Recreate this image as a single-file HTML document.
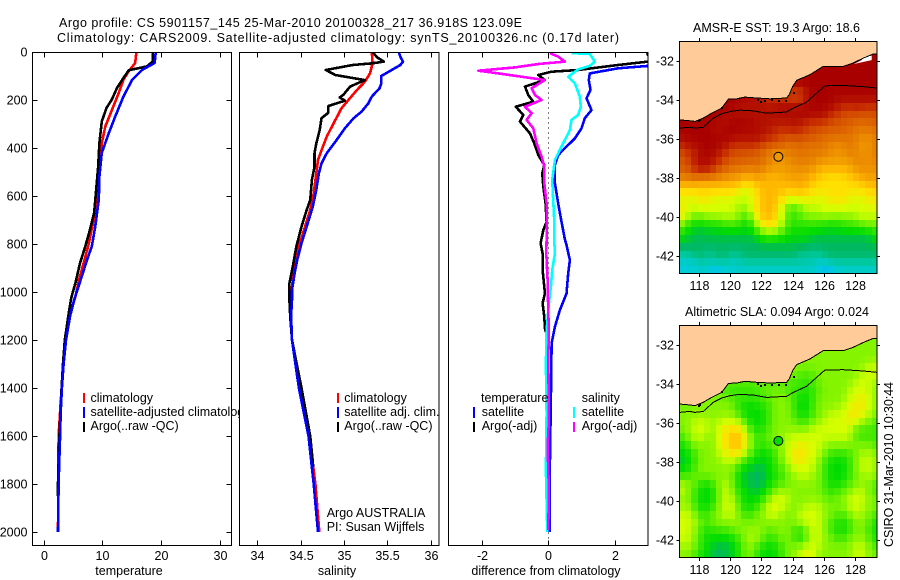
<!DOCTYPE html>
<html>
<head>
<meta charset="utf-8">
<title>Argo profile</title>
<style>
html,body{margin:0;padding:0;background:#fff;}
svg{display:block;}
text{font-family:"Liberation Sans",sans-serif;font-size:12.5px;fill:#000;}
</style>
</head>
<body>
<svg id="chart" xmlns="http://www.w3.org/2000/svg" width="900" height="580" viewBox="0 0 900 580">
<rect x="0" y="0" width="900" height="580" fill="#fff"/>
<text x="59" y="27" textLength="463" lengthAdjust="spacing">Argo profile: CS 5901157_145 25-Mar-2010 20100328_217 36.918S 123.09E</text>
<text x="57" y="42" textLength="562" lengthAdjust="spacing">Climatology: CARS2009. Satellite-adjusted climatology: synTS_20100326.nc (0.17d later)</text>
</svg>
<script>
// ---------- profile data ----------
const tempClimDepth=[0,46,80,115,170,255,310,380,465,560,645,700,797,880,950,1020,1100,1200,1300,1400,1600,1800,2000];
const tempClim=[15.8,15.6,14.5,13.6,12.8,11.4,10.5,9.9,9.5,9.2,9.0,8.5,7.7,6.8,6.0,5.4,4.4,3.7,3.3,3.05,2.55,2.5,2.45];
const tempSatDepth=[0,46,74,115,185,268,338,420,518,615,726,810,865,935,1032,1100,1200,1300,1400,1500,1600,1700,1800,2000];
const tempSat=[19.1,18.9,16.8,15.1,13.6,12.2,11.1,9.9,9.5,9.4,8.8,8.2,7.4,6.5,5.2,4.5,3.8,3.4,3.1,2.9,2.8,2.67,2.55,2.45];
const tempArgoDepth=[0,39,60,76,108,150,199,233,289,379,476,587,671,740,810,880,963,1025,1100,1200,1300,1400,1620,1800,1850];
const tempArgo=[18.6,18.6,17.6,14.5,13.6,12.5,11.6,10.7,9.9,9.5,9.3,8.9,8.6,7.9,7.1,6.2,5.4,4.7,4.2,3.6,3.3,3.05,2.65,2.45,2.45];

const salClimDepth=[0,47,89,124,158,200,235,297,353,401,450,505,589,658,728,797,867,922,978,1033,1100,1200,1400,1600,1800,2000];
const salClim=[35.32,35.33,35.30,35.24,35.15,35.05,34.97,34.88,34.80,34.75,34.70,34.68,34.65,34.61,34.55,34.49,34.45,34.42,34.40,34.39,34.39,34.40,34.49,34.60,34.67,34.715];
const salSatDepth=[0,20,40,54,75,100,131,151,186,214,249,276,318,374,422,464,505,574,644,728,797,867,922,992,1033,1100,1200,1400,1600,1800,2000];
const salSat=[35.63,35.65,35.68,35.65,35.55,35.43,35.43,35.41,35.32,35.28,35.20,35.11,35.01,34.90,34.80,34.74,34.71,34.68,34.64,34.57,34.51,34.46,34.43,34.40,34.40,34.39,34.40,34.48,34.59,34.65,34.70];
const salArgoDepth=[0,22,40,47,54,75,96,117,144,179,189,203,225,253,276,325,381,422,478,533,617,658,728,811,894,964,1033,1100,1200,1400,1600,1730];
const salArgo=[35.33,35.38,35.46,35.33,35.10,34.79,34.90,35.24,35.07,34.99,34.95,35.01,34.82,34.82,34.74,34.72,34.68,34.66,34.66,34.63,34.61,34.57,34.51,34.45,34.41,34.37,34.37,34.38,34.40,34.51,34.61,34.646];

const diffTempSatDepth=[0,58,68,89,117,158,193,242,276,318,360,394,429,471,547,631,707,781,804,867,922,1006,1075,1145,1214,1436,1714,1999];
const diffTempSat=[3.4,3.0,2.1,1.25,1.22,1.27,1.15,1.3,1.1,1.0,0.8,0.55,0.3,0.2,0.2,0.3,0.4,0.5,0.55,0.65,0.6,0.55,0.35,0.2,0.1,0.08,0.05,0.05];
const diffTempArgoDepth=[5,30,40,54,75,82,96,117,144,179,207,228,262,290,339,381,429,471,506,561,631,707,742,797,839,909,978,1006,1047,1103,1152,1175,1534];
const diffTempArgo=[2.96,3.1,3.0,2.1,0.9,0.1,-0.3,-0.1,-0.7,-0.6,-0.45,-0.98,-0.75,-0.85,-0.55,-0.42,-0.3,-0.12,-0.18,-0.15,-0.08,-0.05,-0.15,-0.23,-0.17,-0.17,-0.12,-0.10,-0.17,-0.12,-0.1,-0.05,-0.04];
const diffSalSatDepth=[5,8,40,58,72,103,131,186,228,262,283,325,394,450,533,617,700,781,839,909,978,1047,1159,1298,1506,1742,1999];
const diffSalSat=[0.7,1.25,1.4,1.25,0.9,0.6,0.8,0.95,0.98,0.9,0.7,0.65,0.4,0.2,0.12,0.15,0.18,0.18,0.2,0.12,0.08,0.02,-0.05,-0.07,-0.05,-0.07,-0.03];
const diffSalArgoDepth=[5,19,40,50,64,78,89,103,117,151,179,200,228,255,283,318,381,436,478,547,631,781,839,950,1089,1159,1270,1534,1645,1825,1992];
const diffSalArgo=[0.05,0.3,0.5,-0.3,-1.0,-2.1,-1.5,-0.8,-0.1,-0.5,-0.4,-0.2,-0.7,-0.5,-0.65,-0.45,-0.35,-0.2,-0.12,-0.12,-0.05,-0.05,-0.06,-0.02,0,0.02,0,0.02,-0.02,0.02,0];

const depthTicks=[0,200,400,600,800,1000,1200,1400,1600,1800,2000];
const tempTicks=[0,10,20,30];
const salTicks=[34,34.5,35,35.5,36];
const diffTicks=[-2,0,2];
const lonTicks=[118,120,122,124,126,128];
const latTicks=[-32,-34,-36,-38,-40,-42];

// ---------- map data (0.4 degree cells, colour class 0-15) ----------
const sstCells=[
[15,15,15,15,15,15,15,15,15,15,15,15,15,15,15,15,15,15,15,15,15,15,15,15,15,15,15,15,15,15,15,15],
[15,15,15,15,15,15,15,15,15,15,15,15,15,15,15,15,15,15,15,15,15,15,15,15,15,15,15,15,15,15,15,15],
[15,15,15,15,15,15,15,15,15,15,15,15,15,15,15,15,15,15,15,15,15,15,15,15,15,15,15,15,15,15,15,15],
[15,15,15,15,15,15,15,15,15,15,15,15,15,15,15,15,15,15,15,15,15,15,15,15,15,15,15,15,15,15,15,15],
[15,15,15,15,15,15,15,15,15,15,15,15,15,15,15,15,15,15,15,15,15,15,15,15,15,15,15,15,15,15,15,15],
[15,15,15,15,15,15,15,15,15,15,15,15,15,15,15,15,15,15,15,15,15,15,15,15,15,15,15,15,15,15,15,15],
[15,15,15,15,15,15,15,15,15,15,15,15,14,13,13,13,13,12,13,12,14,15,15,15,15,15,15,15,15,15,15,15],
[15,15,15,15,15,15,15,15,15,15,14,14,14,14,13,13,13,12,12,12,13,15,15,15,15,14,14,14,14,14,14,14],
[15,15,15,15,15,15,15,15,15,14,14,14,14,14,14,14,15,15,15,15,15,15,15,15,14,14,13,13,14,13,13,13],
[15,15,14,14,15,15,15,14,14,14,14,14,14,14,14,14,14,14,14,14,15,14,14,14,13,13,12,12,12,12,12,12],
[15,15,15,15,15,15,14,14,15,15,15,15,14,14,14,14,14,14,14,14,13,13,13,13,12,12,12,12,12,11,12,12],
[15,15,15,15,15,14,14,15,15,15,14,15,14,14,14,13,13,13,14,13,13,12,12,12,12,12,12,11,11,11,11,11],
[14,15,15,15,15,15,15,15,14,14,14,14,14,14,13,13,12,12,12,12,12,12,12,11,11,11,11,11,11,10,10,11],
[13,14,14,15,15,15,14,14,13,13,13,13,13,12,12,12,12,11,11,12,11,11,11,11,11,10,11,11,11,10,10,11],
[12,13,13,14,15,14,14,13,12,12,12,12,12,11,11,10,10,11,11,11,11,11,11,11,10,10,10,11,10,10,10,11],
[12,12,14,15,14,14,13,12,12,12,12,11,12,11,11,10,10,10,11,11,11,11,10,10,10,10,10,10,11,11,10,11],
[12,12,13,14,14,13,12,12,11,11,11,11,11,11,10,10,10,10,10,10,10,10,9,9,9,9,9,9,10,10,10,10],
[11,11,12,11,11,11,11,10,10,10,9,9,10,9,9,9,9,10,10,10,10,9,9,8,8,8,8,9,9,10,10,10],
[9,9,9,9,9,9,9,9,9,9,8,8,9,9,9,9,9,9,9,9,9,8,8,8,8,8,8,8,8,8,9,9],
[8,8,8,8,8,8,8,8,8,7,7,7,8,9,9,9,9,8,9,9,9,8,8,8,8,8,8,8,8,8,8,8],
[7,7,7,8,8,7,7,7,7,7,7,7,8,9,9,9,8,7,7,7,7,7,7,7,8,8,8,7,7,7,8,8],
[8,7,7,7,7,7,7,7,7,6,6,7,8,9,9,9,7,5,5,6,7,7,7,7,7,7,7,7,7,7,7,7],
[8,7,6,6,7,7,7,7,7,7,5,6,8,9,9,9,7,5,5,5,6,6,6,7,7,6,7,6,7,7,7,7],
[7,4,4,4,4,4,4,5,5,5,4,4,7,8,8,8,7,5,5,5,5,5,5,4,4,4,5,5,5,6,6,6],
[5,4,4,3,4,4,4,4,4,4,4,4,5,7,7,7,6,4,4,4,4,4,4,4,4,4,4,4,4,4,4,5],
[4,3,3,3,3,3,3,3,3,3,3,3,3,4,4,4,4,4,4,4,4,3,3,3,3,3,3,3,3,3,3,4],
[3,3,3,3,3,3,3,3,3,3,3,3,3,3,3,3,3,3,3,3,3,3,3,3,3,3,3,3,3,3,3,3],
[2,2,3,3,2,2,3,3,2,2,3,3,3,3,3,3,3,3,3,2,2,2,2,3,3,3,3,3,3,3,3,3],
[1,1,1,2,2,2,2,2,1,2,2,2,2,2,2,2,2,2,2,2,2,2,1,1,2,2,2,2,2,2,2,2],
[1,1,1,1,1,0,0,1,1,1,1,1,1,1,1,1,1,1,1,1,1,1,1,0,0,1,1,1,1,1,1,1]
];
const slaCells=[
[6,6,6,6,6,6,6,6,6,6,6,6,6,6,6,6,6,6,6,6,6,6,6,6,6,6,6,6,6,6,6,6],
[6,6,6,6,6,6,6,6,6,6,6,6,6,6,6,6,6,6,6,6,6,6,6,6,6,6,6,6,6,6,6,6],
[6,6,6,6,6,6,6,6,6,6,6,6,6,6,6,6,6,6,6,6,6,6,6,6,6,6,6,6,6,6,6,6],
[6,6,6,6,6,6,6,6,6,6,6,6,6,6,6,6,6,6,6,6,6,6,6,6,6,6,6,6,6,6,6,6],
[6,6,6,6,6,6,6,6,6,6,6,6,6,6,6,6,6,6,6,6,6,6,6,6,6,6,6,6,6,6,6,6],
[6,6,6,6,6,6,6,6,6,6,6,6,6,6,6,6,6,6,6,6,6,6,6,6,6,6,6,6,6,6,7,7],
[6,6,6,6,6,6,6,6,6,6,6,6,6,6,6,6,6,6,6,5,5,5,6,6,6,6,6,6,6,7,7,7],
[6,6,6,6,6,6,6,5,5,5,5,5,5,5,5,5,5,5,5,5,5,5,6,6,6,6,6,6,7,7,7,6],
[5,5,5,5,6,6,5,5,5,5,5,5,5,6,6,6,6,5,5,5,4,5,5,6,6,6,6,7,7,7,7,6],
[5,5,6,6,6,6,6,6,5,5,5,5,5,5,5,6,6,6,5,4,4,5,6,6,6,6,6,7,7,8,7,6],
[6,6,6,6,6,6,6,6,6,5,4,4,4,5,5,6,6,6,5,4,4,5,6,6,6,6,7,7,8,8,7,6],
[6,6,6,6,6,6,6,6,6,5,4,4,4,4,5,6,6,6,5,4,4,5,6,6,7,7,7,8,8,7,7,6],
[6,6,7,7,7,6,7,7,7,7,6,4,4,4,5,6,6,6,6,5,5,6,6,7,7,7,7,8,7,7,6,5],
[6,6,7,7,7,6,7,8,8,8,7,5,4,5,5,6,6,6,6,6,6,7,7,7,7,7,7,7,5,5,5,5],
[5,6,7,7,6,6,7,8,9,9,8,6,5,5,6,6,6,7,7,7,7,7,7,7,7,7,7,7,5,5,5,5],
[4,5,6,6,6,6,7,8,9,9,8,6,5,5,5,6,6,7,7,8,7,7,7,6,6,6,6,6,6,6,6,5],
[4,4,5,6,6,6,7,7,8,8,7,6,4,4,4,5,6,7,8,8,8,7,7,6,5,5,5,5,6,6,7,6],
[3,4,5,6,6,6,6,7,7,6,5,4,4,4,4,5,6,7,8,8,7,7,6,5,4,4,4,5,6,7,7,6],
[4,4,5,6,6,6,6,6,6,5,4,4,3,3,4,5,5,6,7,7,7,7,6,5,4,4,4,5,6,7,7,6],
[5,5,6,6,6,6,6,6,6,4,3,3,3,3,4,4,5,6,6,7,7,6,6,5,4,4,4,5,6,6,7,6],
[7,6,6,4,4,5,6,7,6,4,4,3,3,3,4,5,5,6,6,6,6,6,6,5,4,4,5,5,6,6,6,5],
[7,6,5,4,4,4,6,7,6,5,4,4,3,4,5,6,7,6,6,6,6,6,6,5,5,5,6,6,7,7,6,5],
[6,6,5,4,4,4,6,7,7,5,4,4,4,5,6,7,7,7,6,6,6,6,6,6,5,6,6,7,7,7,6,6],
[6,7,5,4,4,5,6,7,7,6,4,4,5,6,7,8,7,6,6,6,7,7,7,6,6,6,6,7,7,7,6,6],
[7,7,6,5,5,6,6,7,7,6,5,5,6,6,7,7,6,6,6,7,7,7,7,6,6,5,5,6,7,6,6,5],
[7,7,7,6,5,6,6,6,6,6,6,6,6,6,6,6,6,6,6,7,7,7,7,6,5,5,4,5,6,6,6,4],
[7,7,6,5,4,5,5,5,6,6,6,6,6,6,5,6,6,6,5,4,6,7,7,6,5,4,4,5,6,6,5,4],
[7,7,6,5,4,4,4,4,4,5,6,7,7,6,5,5,6,6,5,4,5,7,7,6,6,5,5,6,6,6,6,4],
[6,7,6,5,4,4,3,3,4,4,6,6,5,4,4,4,5,6,6,6,7,7,7,6,6,6,6,6,7,7,6,5],
[6,6,5,4,4,3,3,3,4,4,6,6,5,4,4,4,5,6,6,7,8,7,6,6,6,6,6,6,7,7,6,6]
];
const coastLon=[116.71,117.40,117.72,118.26,118.79,119.44,119.87,120.40,120.94,121.69,122.55,123.62,123.79,124.01,124.27,125.12,125.98,127.27,127.91,128.56,129.20,129.46];
const coastLat=[-35.02,-35.07,-35.10,-34.93,-34.68,-34.42,-33.96,-33.94,-33.85,-33.90,-33.94,-33.90,-33.73,-33.30,-32.99,-32.70,-32.27,-32.27,-32.10,-31.85,-31.64,-31.64];
const isobathLon=[116.71,117.40,117.72,118.26,118.90,119.44,119.97,120.62,121.48,122.33,123.62,124.05,124.91,125.55,126.09,127.27,128.56,129.46];
const isobathLat=[-35.45,-35.40,-35.45,-35.40,-34.93,-34.71,-34.59,-34.52,-34.56,-34.68,-34.62,-34.42,-34.11,-33.65,-33.27,-33.25,-33.32,-33.39];
const noDataLon=[127.95,128.45,128.55,128.7,129.1,129.1];
const noDataLat=[-32.15,-31.95,-31.85,-31.75,-31.72,-31.95];
const islandLon=[117.95,118.02,119.45,121.75,121.95,122.25,122.65,123.15,123.6,124.12];
const islandLat=[-35.10,-35.05,-34.42,-34.0,-34.08,-34.05,-34.02,-34.03,-34.03,-33.65];
const argoLon=123.09;
const argoLat=-36.918;
const argoSstClass=10;
const argoSlaClass=4;

// ---------- helpers ----------
const NS='http://www.w3.org/2000/svg';
const svg=document.getElementById('chart');
function mk(tag,attrs,parent){
  const e=document.createElementNS(NS,tag);
  for(const k in attrs){e.setAttribute(k,attrs[k]);}
  (parent||svg).appendChild(e);
  return e;
}
function linear(d0,d1,r0,r1){return v=>r0+(v-d0)*(r1-r0)/(d1-d0);}
const palette=[[0,180,255],[0,204,216],[0,200,160],[0,184,96],[0,220,0],[60,232,0],[132,244,0],[212,255,0],[255,224,0],[255,184,0],[240,152,0],[228,120,0],[216,88,0],[200,48,0],[180,16,0],[168,0,0]];
function classColour(v){
  const i=Math.max(0,Math.min(14,Math.floor(v)));
  const f=Math.max(0,Math.min(1,v-i));
  const a=palette[i],b=palette[i+1];
  return 'rgb('+a.map((p,k)=>Math.round(p+(b[k]-p)*f)).join(',')+')';
}
// display value of a cell: the cell softened toward its neighbours, as in the gridded product
function shaded(cells,r,c){
  let s=0,w=0;
  for(let dr=-1;dr<=1;dr++){
    for(let dc=-1;dc<=1;dc++){
      const row=cells[r+dr];
      if(!row||row[c+dc]===undefined)continue;
      const k=(dr===0?2:1)*(dc===0?2:1);
      s+=row[c+dc]*k;w+=k;
    }
  }
  return s/w;
}
const yDepth=linear(0,2054,52,545);
const PT=52.5,PB=545.5;
let clipId=0;
function addClip(x,y,w,h){
  const id='clip'+(clipId++);
  const c=mk('clipPath',{id:id});
  mk('rect',{x:x,y:y,width:w,height:h},c);
  return id;
}
function seg(parent,x1,y1,x2,y2){
  return mk('line',{x1:x1,y1:y1,x2:x2,y2:y2,stroke:'#000','stroke-width':1,'shape-rendering':'crispEdges'},parent);
}
function profile(parent,depths,vals,xf,color,w){
  const pts=depths.map((d,i)=>xf(vals[i]).toFixed(1)+','+yDepth(d).toFixed(1)).join(' ');
  return mk('polyline',{points:pts,fill:'none',stroke:color,'stroke-width':w,'stroke-linejoin':'round','shape-rendering':'crispEdges'},parent);
}
function swatch(parent,x,y,h,color){
  return mk('rect',{x:x,y:y,width:2,height:h,fill:color,'shape-rendering':'crispEdges'},parent);
}
function label(parent,x,y,s,anchor){
  const t=mk('text',{x:x,y:y,'text-anchor':anchor||'start'},parent);
  t.textContent=s;
  return t;
}
const LW=2.6;

// ---------- panel 1: temperature ----------
const p1=mk('g',{});


const x1f=linear(-1.9,32,32.5,231.5);
const bg1=mk('rect',{x:32.5,y:PT,width:199,height:493,fill:'#fff'},p1);


const c1=addClip(32.5,52.5,199,493);
const g1=mk('g',{'clip-path':'url(#'+c1+')'},p1);
const l1a=profile(g1,tempClimDepth,tempClim,x1f,'#f00',LW);


const l1b=profile(g1,tempArgoDepth,tempArgo,x1f,'#000',LW);


const l1c=profile(g1,tempSatDepth,tempSat,x1f,'#00f',LW);


const f1=mk('rect',{x:32.5,y:PT,width:199,height:493,fill:'none',stroke:'#000','stroke-width':1,'shape-rendering':'crispEdges'},p1);


depthTicks.forEach(d=>{
  const y=Math.round(yDepth(d))+0.5;
  if(d>0){seg(p1,32.5,y,37.5,y);seg(p1,231.5,y,226.5,y);}
  const t=label(p1,27.5,y+4,String(d),'end');
  
  
});
tempTicks.forEach(v=>{
  const x=Math.round(x1f(v))+0.5;
  seg(p1,x,PT,x,PT+5);seg(p1,x,PB,x,PB-5);
  const t=label(p1,x,560,String(v),'middle');
  
  
});
const xt1=label(p1,129,575,'temperature','middle');


const sw1a=swatch(p1,83,393,10,'#f00');


const sw1b=swatch(p1,83,407,11,'#00f');


const sw1c=swatch(p1,83,422,10,'#000');


const lt1a=label(p1,90.5,402,'climatology');


const lt1b=label(p1,90.5,416,'satellite-adjusted climatology');
lt1b.setAttribute('textLength','160');
lt1b.setAttribute('lengthAdjust','spacing');


const lt1c=label(p1,90.5,430,'Argo(..raw -QC)');



// ---------- panel 2: salinity ----------
const p2=mk('g',{});


const x2f=linear(33.795,36.095,239.5,439);
const bg2=mk('rect',{x:239.5,y:PT,width:199.5,height:493,fill:'#fff'},p2);


const c2=addClip(239.5,52.5,199.5,493);
const g2=mk('g',{'clip-path':'url(#'+c2+')'},p2);
const l2a=profile(g2,salClimDepth,salClim,x2f,'#f00',LW);


const l2b=profile(g2,salArgoDepth,salArgo,x2f,'#000',LW);


const l2c=profile(g2,salSatDepth,salSat,x2f,'#00f',LW);


const f2=mk('rect',{x:239.5,y:PT,width:199.5,height:493,fill:'none',stroke:'#000','stroke-width':1,'shape-rendering':'crispEdges'},p2);


salTicks.forEach(v=>{
  const x=Math.round(x2f(v))+0.5;
  seg(p2,x,PT,x,PT+5);seg(p2,x,PB,x,PB-5);
  const t=label(p2,x,560,String(v),'middle');
  
  
});
const xt2=label(p2,337,575,'salinity','middle');


const sw2a=swatch(p2,337,393,10,'#f00');


const sw2b=swatch(p2,337,407,11,'#00f');


const sw2c=swatch(p2,337,422,10,'#000');


const lt2a=label(p2,344.3,402,'climatology');


const lt2b=label(p2,344.3,416,'satellite adj. clim.');


const lt2c=label(p2,344.3,430,'Argo(..raw -QC)');


const inst1=label(p2,326.7,517,'Argo AUSTRALIA');


const inst2=label(p2,326.7,531,'PI: Susan Wijffels');



// ---------- panel 3: differences ----------
const p3=mk('g',{});


const x3f=linear(-3,3,448.5,648);
const bg3=mk('rect',{x:448.5,y:PT,width:199.5,height:493,fill:'#fff'},p3);


const c3=addClip(448.5,52.5,199.5,493);
const g3=mk('g',{'clip-path':'url(#'+c3+')'},p3);
const z3=mk('line',{x1:Math.round(x3f(0))+0.5,y1:PT,x2:Math.round(x3f(0))+0.5,y2:PB,stroke:'#000','stroke-width':1,'stroke-dasharray':'1 4','shape-rendering':'crispEdges'},g3);


const l3a=profile(g3,diffTempArgoDepth,diffTempArgo,x3f,'#000',LW);


const l3b=profile(g3,diffTempSatDepth,diffTempSat,x3f,'#00f',LW);


const l3c=profile(g3,diffSalSatDepth,diffSalSat,x3f,'#0ff',LW);


const l3d=profile(g3,diffSalArgoDepth,diffSalArgo,x3f,'#f0f',LW);


const f3=mk('rect',{x:448.5,y:PT,width:199.5,height:493,fill:'none',stroke:'#000','stroke-width':1,'shape-rendering':'crispEdges'},p3);


diffTicks.forEach(v=>{
  const x=Math.round(x3f(v))+0.5;
  seg(p3,x,PT,x,PT+5);seg(p3,x,PB,x,PB-5);
  const t=label(p3,x,560,String(v),'middle');
  
  
});
const xt3=label(p3,546,575,'difference from climatology','middle');


const lh3a=label(p3,481,402,'temperature');


const lh3b=label(p3,581.7,402,'salinity');


const sw3a=swatch(p3,473,407,11,'#00f');


const sw3b=swatch(p3,473,422,10,'#000');


const sw3c=swatch(p3,573,407,11,'#0ff');


const sw3d=swatch(p3,573,422,10,'#f0f');


const lt3a=label(p3,481.7,416,'satellite');


const lt3b=label(p3,481.7,430,'Argo(-adj)');


const lt3c=label(p3,581.7,416,'satellite');


const lt3d=label(p3,581.7,430,'Argo(-adj)');



// ---------- maps ----------
function drawMap(name,cells,top,bottom,latTop,latBottom,dotClass,title,titleX,titleW,titleY,labelY){
  const L=679.5,R=877;
  const xf=linear(116.725,129.44,L,R);
  const yf=linear(latTop,latBottom,top,bottom);
  const g=mk('g',{});
  
  
  const cid=addClip(L,top,R-L,bottom-top);
  const inner=mk('g',{'clip-path':'url(#'+cid+')'},g);
  cells.forEach((row,r)=>{
    const y0=Math.floor(yf(latTop-0.4*r));
    const y1=Math.ceil(yf(latTop-0.4*(r+1)));
    row.forEach((v,c)=>{
      const x0=Math.floor(xf(116.725+0.4*c));
      const x1=Math.ceil(xf(116.725+0.4*(c+1)));
      const cell=mk('rect',{x:x0,y:y0,width:x1-x0,height:y1-y0,fill:classColour(shaded(cells,r,c)),'shape-rendering':'crispEdges'},inner);
      
      
    });
  });
  let landPts=coastLon.map((lo,i)=>xf(lo).toFixed(1)+','+yf(coastLat[i]).toFixed(1)).join(' ');
  landPts+=' '+R+','+top+' '+L+','+top;
  const land=mk('polygon',{points:landPts,fill:'#fecb99'},inner);
  
  
  if(name==='sst'){
    const nd=mk('polygon',{points:noDataLon.map((lo,i)=>xf(lo).toFixed(1)+','+yf(noDataLat[i]).toFixed(1)).join(' '),fill:'#fff'},inner);
    
    
  }
  const coast=mk('polyline',{points:coastLon.map((lo,i)=>xf(lo).toFixed(1)+','+yf(coastLat[i]).toFixed(1)).join(' '),fill:'none',stroke:'#000','stroke-width':1,'shape-rendering':'crispEdges'},inner);
  
  
  const iso=mk('polyline',{points:isobathLon.map((lo,i)=>xf(lo).toFixed(1)+','+yf(isobathLat[i]).toFixed(1)).join(' '),fill:'none',stroke:'#000','stroke-width':1,'shape-rendering':'crispEdges'},inner);
  
  
  islandLon.forEach((lo,i)=>{
    const isl=mk('rect',{x:Math.round(xf(lo))-1,y:Math.round(yf(islandLat[i]))-1,width:2,height:2,fill:'#000','shape-rendering':'crispEdges'},inner);
    
    
  });
  const dot=mk('circle',{cx:xf(argoLon),cy:yf(argoLat),r:4.5,fill:classColour(dotClass),stroke:'#000','stroke-width':1},g);
  
  
  const fr=mk('rect',{x:L,y:top+0.5,width:R-L,height:bottom-top,fill:'none',stroke:'#000','stroke-width':1,'shape-rendering':'crispEdges'},g);
  
  
  lonTicks.forEach(v=>{
    const x=Math.round(xf(v))+0.5;
    seg(g,x,top+0.5,x,top-3);seg(g,x,bottom+0.5,x,bottom+4);
    const t=label(g,x,labelY,String(v),'middle');
    
    
  });
  latTicks.forEach(v=>{
    const y=Math.round(yf(v))+0.5;
    seg(g,L,y,L-3,y);seg(g,R,y,R+3,y);
    const t=label(g,674,y+4,String(v),'end');
    
    
  });
  const tt=label(g,titleX,titleY,title);
  tt.setAttribute('textLength',titleW);
  tt.setAttribute('lengthAdjust','spacing');
  
  
}
drawMap('sst',sstCells,41,273,-30.97,-42.89,argoSstClass,'AMSR-E SST: 19.3 Argo: 18.6',693,167,32,290);
drawMap('sla',slaCells,325,557,-30.95,-42.9,argoSlaClass,'Altimetric SLA: 0.094 Argo: 0.024',685,184,316,574);

const stamp=mk('text',{x:0,y:0,transform:'translate(893,547) rotate(-90)',textLength:165,lengthAdjust:'spacing'});
stamp.textContent='CSIRO 31-Mar-2010 10:30:44';


</script>
</body>
</html>
